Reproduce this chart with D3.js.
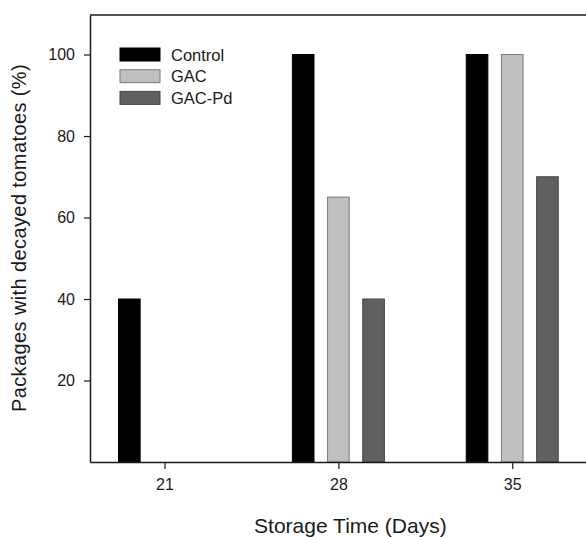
<!DOCTYPE html>
<html>
<head>
<meta charset="utf-8">
<script src="https://cdn.jsdelivr.net/npm/d3@7"></script>
<style>
  body { margin: 0; background: #fff; }
  text { font-family: "Liberation Sans", Arial, sans-serif; fill: #1a1a1a; }
</style>
</head>
<body>
<div id="chart"></div>
<script>
const days = [21, 28, 35];
const series = ["Control", "GAC", "GAC-Pd"];
const control = [40, 100, 100];
const gac = [0, 65, 100];
const gacPd = [0, 40, 70];
const yTicks = [20, 40, 60, 80, 100];

const colors = { "Control": "#000000", "GAC": "#c0c0c0", "GAC-Pd": "#606060" };
const strokes = { "Control": "#000000", "GAC": "#7a7a7a", "GAC-Pd": "#454545" };

const width = 586, height = 537;
const margin = { top: 15, left: 90, right: -2, bottom: 75 };
const innerW = width - margin.left - margin.right;
const innerH = height - margin.top - margin.bottom;

const svg = d3.select("#chart").append("svg")
  .attr("width", width).attr("height", height);
const g = svg.append("g").attr("transform", `translate(${margin.left},${margin.top})`);

const x = d3.scaleLinear().domain([18, 38.05]).range([0, innerW]);
const y = d3.scaleLinear().domain([0, 109.7]).range([innerH, 0]);
const sub = d3.scaleBand().domain(series).range([-46, 46]).paddingInner(0.386);

const rows = [];
days.forEach((d, i) => {
  [control[i], gac[i], gacPd[i]].forEach((v, j) => {
    if (v > 0) rows.push({ day: d, key: series[j], value: v });
  });
});

g.selectAll("rect.bar")
  .data(rows)
  .join("rect")
  .attr("class", "bar")
  .attr("x", d => x(d.day) + sub(d.key))
  .attr("y", d => y(d.value))
  .attr("width", sub.bandwidth())
  .attr("height", d => innerH - y(d.value))
  .attr("fill", d => colors[d.key])
  .attr("stroke", d => strokes[d.key])
  .attr("stroke-width", 1);

// frame
g.append("line").attr("x1", 0).attr("x2", innerW).attr("y1", 0).attr("y2", 0)
  .attr("stroke", "#1a1a1a").attr("stroke-width", 1.5);

const xAxis = g.append("g").attr("transform", `translate(0,${innerH})`)
  .call(d3.axisBottom(x).tickValues(days).tickSize(7).tickPadding(10).tickSizeOuter(0));
const yAxis = g.append("g")
  .call(d3.axisLeft(y).tickValues(yTicks).tickSize(6).tickPadding(9).tickSizeOuter(0));

[xAxis, yAxis].forEach(a => {
  a.select(".domain").attr("stroke", "#1a1a1a").attr("stroke-width", 1.5);
  a.selectAll(".tick line").attr("stroke", "#1a1a1a").attr("stroke-width", 1.2);
  a.selectAll(".tick text").style("font-size", "16px").attr("fill", "#1a1a1a");
});

// axis titles
svg.append("text")
  .attr("x", margin.left + x(28) + 12)
  .attr("y", 533)
  .attr("text-anchor", "middle")
  .style("font-size", "21px")
  .text("Storage Time (Days)");

svg.append("text")
  .attr("transform", `translate(26,238) rotate(-90)`)
  .attr("text-anchor", "middle")
  .style("font-size", "20px")
  .style("letter-spacing", "0.4px")
  .text("Packages with decayed tomatoes (%)");

// legend
const legend = svg.append("g").attr("transform", "translate(120,48)");
series.forEach((s, i) => {
  const row = legend.append("g").attr("transform", `translate(0,${i * 21.7})`);
  row.append("rect").attr("width", 40).attr("height", 13)
    .attr("fill", colors[s]).attr("stroke", strokes[s]).attr("stroke-width", 1);
  row.append("text").attr("x", 51).attr("y", 12.5)
    .style("font-size", "16.5px").text(s);
});
</script>
</body>
</html>
